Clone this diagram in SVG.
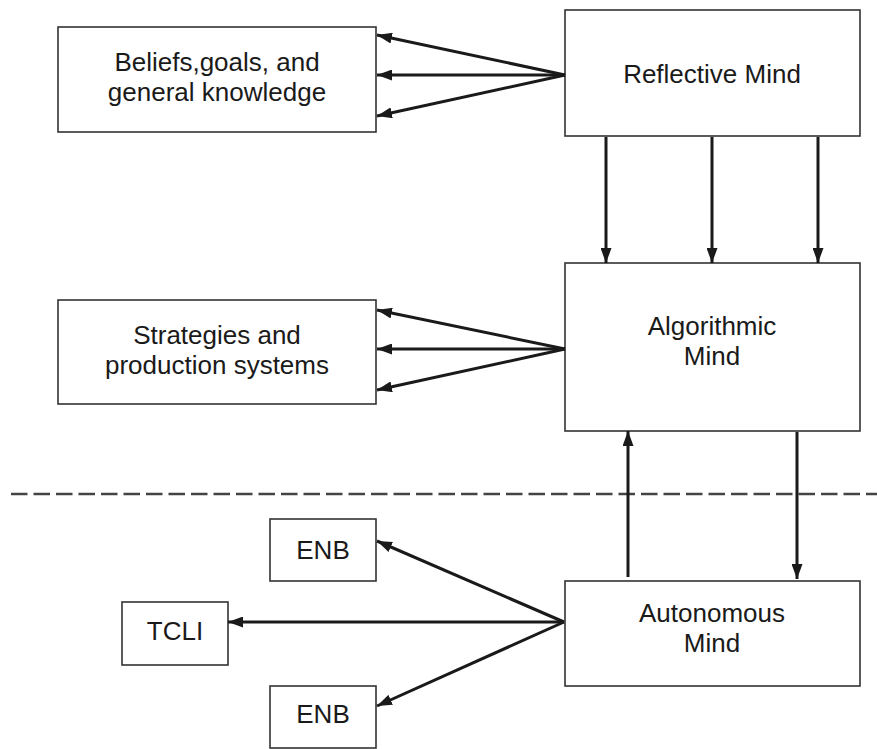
<svg xmlns="http://www.w3.org/2000/svg" width="877" height="749" viewBox="0 0 877 749">
  <defs>
    <marker id="arrow" viewBox="0 0 15 11" refX="15" refY="5.5" markerWidth="15" markerHeight="11" markerUnits="userSpaceOnUse" orient="auto">
      <path d="M0,0 L15,5.5 L0,11 Z" fill="#1a1a1a"/>
    </marker>
    <style>
      .box { fill: #ffffff; stroke: #333333; stroke-width: 1.6; }
      .label { font-family: "Liberation Sans", Arial, sans-serif; font-size: 26px; fill: #1a1a1a; text-anchor: middle; }
      .conn { stroke: #1a1a1a; stroke-width: 3; fill: none; marker-end: url(#arrow); }
      .divider { stroke: #444444; stroke-width: 2.4; stroke-dasharray: 16.5 6; fill: none; }
    </style>
  </defs>
  <rect width="877" height="749" fill="#ffffff"/>

  <!-- boundary between the autonomous mind and the higher levels -->
  <line class="divider" x1="11" y1="494" x2="877" y2="494"/>

  <g id="beliefs">
    <rect class="box" x="58" y="27" width="318" height="105"/>
    <text class="label" x="217" y="71">Beliefs,goals, and</text>
    <text class="label" x="217" y="101">general knowledge</text>
  </g>

  <g id="reflective-mind">
    <rect class="box" x="565" y="10" width="295" height="126"/>
    <text class="label" x="712" y="83">Reflective Mind</text>
  </g>

  <g id="strategies">
    <rect class="box" x="58" y="300" width="318" height="104"/>
    <text class="label" x="217" y="344">Strategies and</text>
    <text class="label" x="217" y="374">production systems</text>
  </g>

  <g id="algorithmic-mind">
    <rect class="box" x="565" y="263" width="295" height="168"/>
    <text class="label" x="712" y="335">Algorithmic</text>
    <text class="label" x="712" y="365">Mind</text>
  </g>

  <g id="autonomous-mind">
    <rect class="box" x="565" y="581" width="295" height="105"/>
    <text class="label" x="712" y="622">Autonomous</text>
    <text class="label" x="712" y="652">Mind</text>
  </g>

  <g id="enb-top">
    <rect class="box" x="270" y="519" width="106" height="62"/>
    <text class="label" x="323" y="559">ENB</text>
  </g>

  <g id="tcli">
    <rect class="box" x="122" y="602" width="106" height="63"/>
    <text class="label" x="175" y="640">TCLI</text>
  </g>

  <g id="enb-bottom">
    <rect class="box" x="270" y="686" width="106" height="62"/>
    <text class="label" x="323" y="723">ENB</text>
  </g>

  <g id="connectors">
    <!-- reflective mind to beliefs -->
    <line class="conn" x1="565" y1="75" x2="377" y2="35"/>
    <line class="conn" x1="565" y1="75" x2="377" y2="75"/>
    <line class="conn" x1="565" y1="75" x2="377" y2="116"/>
    <!-- reflective mind to algorithmic mind -->
    <line class="conn" x1="606" y1="137" x2="606" y2="263"/>
    <line class="conn" x1="712" y1="137" x2="712" y2="263"/>
    <line class="conn" x1="818" y1="137" x2="818" y2="263"/>
    <!-- algorithmic mind to strategies -->
    <line class="conn" x1="565" y1="349" x2="377" y2="310"/>
    <line class="conn" x1="565" y1="349" x2="377" y2="349"/>
    <line class="conn" x1="565" y1="349" x2="377" y2="390"/>
    <!-- autonomous <-> algorithmic -->
    <line class="conn" x1="628" y1="577" x2="628" y2="431"/>
    <line class="conn" x1="797" y1="432" x2="797" y2="579"/>
    <!-- autonomous mind outputs -->
    <line class="conn" x1="564" y1="622" x2="377" y2="541"/>
    <line class="conn" x1="564" y1="622" x2="228" y2="622"/>
    <line class="conn" x1="564" y1="622" x2="377" y2="706"/>
  </g>
</svg>
